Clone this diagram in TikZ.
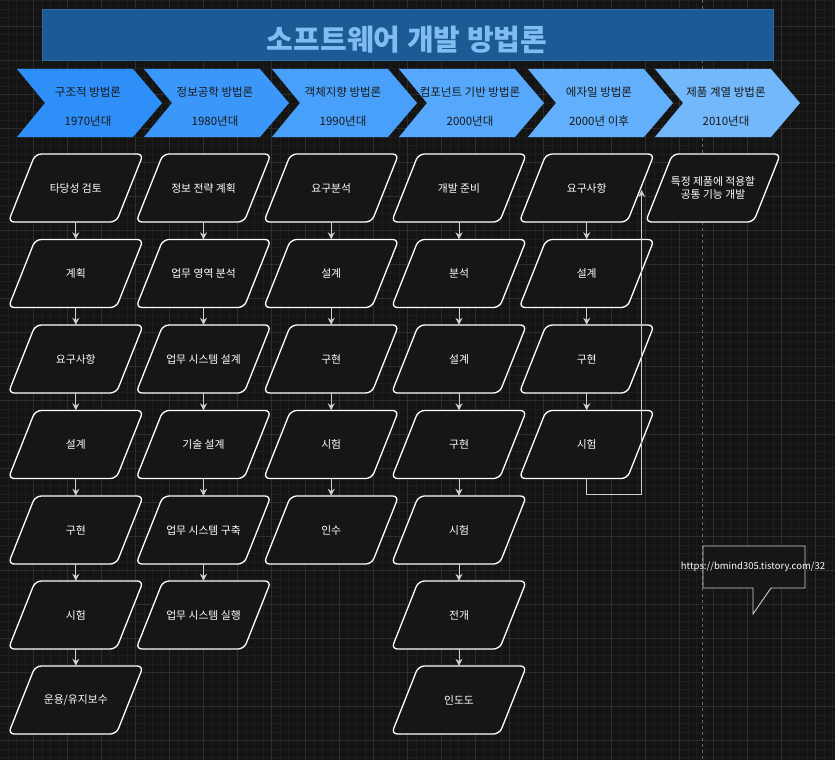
\documentclass[tikz,border=0pt]{standalone}
\usepackage{fontspec}
\setmainfont{Noto Sans CJK KR}
\usetikzlibrary{arrows.meta,calc}
\definecolor{bg}{HTML}{141414}
\definecolor{minorg}{HTML}{1E1E1E}
\definecolor{majorg}{HTML}{2E2E2E}
\definecolor{titlefill}{HTML}{1B5A95}
\definecolor{titledraw}{HTML}{2C6CA8}
\definecolor{titletext}{HTML}{80BCF2}
\definecolor{chA}{HTML}{2F8FF8}
\definecolor{chB}{HTML}{3B97F9}
\definecolor{chC}{HTML}{48A0FA}
\definecolor{chD}{HTML}{55A8FB}
\definecolor{chE}{HTML}{62AFFB}
\definecolor{chF}{HTML}{72B8FB}
\definecolor{pfill}{HTML}{161616}
\definecolor{connc}{HTML}{CFCFCF}
\newcommand\mychev[5]{%
  \fill[#2] (#1,69) -- ({#1+116},69) -- ({#1+145},103) -- ({#1+116},137) -- (#1,137) -- ({#1+28},103) -- cycle;
  \node[chtext] (#3t) at ({#1+71},92) {#4};
  \node[chtext] (#3y) at ({#1+71},121) {#5};
}
\newcommand\pgram[4]{%
  \draw[pshape] ({#2-40.5},{#3-34}) -- ({#2+67.5},{#3-34}) -- ({#2+40.5},{#3+34}) -- ({#2-67.5},{#3+34}) -- cycle;
  \node[ptext] (#1) at (#2,#3) {#4};
}
\begin{document}
\begin{tikzpicture}[x=1pt,y=-1pt,
  minorgrid/.style={draw=minorg,line width=0.6pt},
  majorgrid/.style={draw=majorg,line width=0.8pt},
  chtext/.style={text=black!90,font=\fontsize{11.5}{13}\selectfont,inner sep=0pt},
  pshape/.style={draw=white,line width=1.3pt,fill=pfill,rounded corners=6pt,line join=round},
  ptext/.style={minimum width=108pt,minimum height=68pt,inner sep=0pt,text=white,align=center,font=\fontsize{10.8}{13}\selectfont},
  conn/.style={draw=connc,line width=0.9pt,-{Stealth[length=7pt,width=7pt]}}]
\useasboundingbox (0,0) rectangle (835,760);
\fill[bg] (0,0) rectangle (835,760);
\foreach \i in {0,...,98} {\draw[minorgrid] ({7.8+8.5*\i},0) -- ({7.8+8.5*\i},760);}
\foreach \i in {0,...,89} {\draw[minorgrid] (0,{0.8+8.5*\i}) -- (835,{0.8+8.5*\i});}
\foreach \i in {0,...,23} {\draw[majorgrid] ({33.3+34*\i},0) -- ({33.3+34*\i},760);}
\foreach \i in {0,...,21} {\draw[majorgrid] (0,{26.3+34*\i}) -- (835,{26.3+34*\i});}
\draw[draw=white!35!bg,line width=0.8pt,dash pattern=on 3pt off 3pt] (702.3,0) -- (702.3,760);
% title
\draw[fill=titlefill,draw=titledraw,line width=1pt] (42,10) rectangle (773,61);
\node[text=titletext,font=\fontsize{29}{32}\selectfont\bfseries,inner sep=0pt] (title) at (407,40) {소프트웨어 개발 방법론};
% chevrons
\mychev{17}{chA}{h1}{구조적 방법론}{1970년대}
\mychev{144}{chB}{h2}{정보공학 방법론}{1980년대}
\mychev{272}{chC}{h3}{객체지향 방법론}{1990년대}
\mychev{399}{chD}{h4}{컴포넌트 기반 방법론}{2000년대}
\mychev{528}{chE}{h5}{에자일 방법론}{2000년 이후}
\mychev{655}{chF}{h6}{제품 계열 방법론}{2010년대}
% column 1
\pgram{a1}{75.8}{188}{타당성 검토}
\pgram{a2}{75.8}{273.5}{계획}
\pgram{a3}{75.8}{359}{요구사항}
\pgram{a4}{75.8}{444.5}{설계}
\pgram{a5}{75.8}{530}{구현}
\pgram{a6}{75.8}{615}{시험}
\pgram{a7}{75.8}{700}{운용/유지보수}
% column 2
\pgram{b1}{203.5}{188}{정보 전략 계획}
\pgram{b2}{203.5}{273.5}{업무 영역 분석}
\pgram{b3}{203.5}{359}{업무 시스템 설계}
\pgram{b4}{203.5}{444.5}{기술 설계}
\pgram{b5}{203.5}{530}{업무 시스템 구축}
\pgram{b6}{203.5}{615}{업무 시스템 실행}
% column 3
\pgram{c1}{331.2}{188}{요구분석}
\pgram{c2}{331.2}{273.5}{설계}
\pgram{c3}{331.2}{359}{구현}
\pgram{c4}{331.2}{444.5}{시험}
\pgram{c5}{331.2}{530}{인수}
% column 4
\pgram{d1}{459}{188}{개발 준비}
\pgram{d2}{459}{273.5}{분석}
\pgram{d3}{459}{359}{설계}
\pgram{d4}{459}{444.5}{구현}
\pgram{d5}{459}{530}{시험}
\pgram{d6}{459}{615}{전개}
\pgram{d7}{459}{700}{인도도}
% column 5
\pgram{e1}{586.7}{188}{요구사항}
\pgram{e2}{586.7}{273.5}{설계}
\pgram{e3}{586.7}{359}{구현}
\pgram{e4}{586.7}{444.5}{시험}
% column 6
\pgram{f1}{713}{188}{특정 제품에 적용할\\공통 기능 개발}
% connectors
\foreach \c/\m in {a/6,b/5,c/4,d/6,e/3} {
  \foreach \i in {1,...,\m} {
    \pgfmathtruncatemacro\j{\i+1}
    \draw[conn] (\c\i.south) -- (\c\j.north);
  }
}
\coordinate (loopend) at ($(e1.center)+(55,2)$);
\draw[conn] (e4.south) -- ++(0,16) -| (loopend);
% callout
\draw[draw=connc,line width=0.9pt,fill=pfill] (703,546) -- (805,546) -- (805,588) -- (771,588) -- (753,614) -- (753,588) -- (703,588) -- cycle;
\node[text=white,font=\fontsize{9.5}{11}\selectfont,inner sep=0pt] (url) at (753,567) {https://bmind305.tistory.com/32};
\end{tikzpicture}
\end{document}
